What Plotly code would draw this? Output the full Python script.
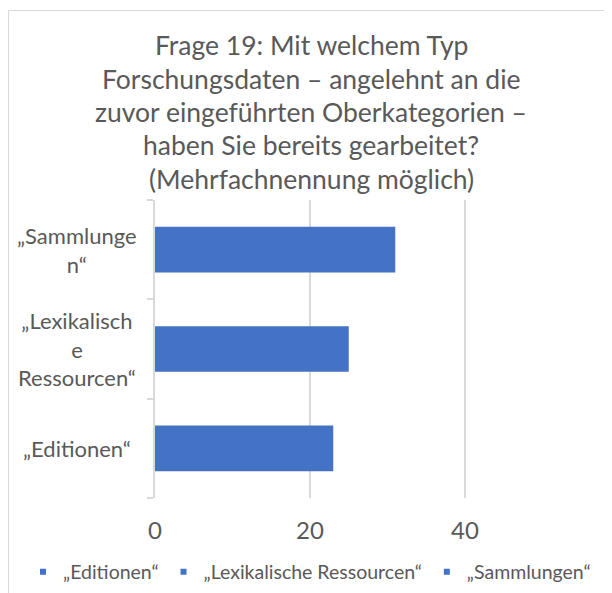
import plotly.graph_objects as go

categories = ["„Editionen“", "„Lexikalische Ressourcen“", "„Sammlungen“"]
category_labels = ["„Editionen“", "„Lexikalisch<br>e<br>Ressourcen“", "„Sammlunge<br>n“"]
values = [23, 25, 31]
title_lines = ["Frage 19: Mit welchem Typ",
               "Forschungsdaten – angelehnt an die",
               "zuvor eingeführten Oberkategorien –",
               "haben Sie bereits gearbeitet?",
               "(Mehrfachnennung möglich)"]
x_ticks = [0, 20, 40, 60]

BAR = "#4472C4"
TXT = "#595959"
GRID = "#D9D9D9"
FONT = "Lato"

# the page body adds an 8px offset; lay out in page pixels minus that offset
OFF = 8
W, H = 612 - OFF, 593 - OFF
ML, MR, MT, MB = 155 - OFF, 0, 200 - OFF, 95
plot_w = W - ML - MR
plot_h = H - MT - MB
px_per_unit = 7.75


def px_x(px):  # page pixel -> paper x
    return (px - OFF - ML) / plot_w


def px_y(py):  # page pixel -> paper y
    return (MT + plot_h - (py - OFF)) / plot_h


fig = go.Figure()
for cat, val in zip(categories, values):
    fig.add_trace(go.Bar(y=[cat], x=[val], orientation="h", width=0.46,
                         marker=dict(color=BAR, line=dict(width=0)),
                         showlegend=False, hoverinfo="x+y"))
for cat in categories:
    fig.add_trace(go.Scatter(x=[None], y=[None], mode="markers", name=cat,
                             marker=dict(symbol="square", size=6, color=BAR)))

annotations = []
for cat, lab in zip(categories, category_labels):
    annotations.append(dict(x=px_x(76.5), xref="paper", y=cat, yref="y",
                            text=lab, showarrow=False, align="center",
                            xanchor="center", yanchor="middle",
                            font=dict(family=FONT, size=22, color=TXT)))
title_mid = [45, 78.5, 112, 145.5, 179]
for line, cy in zip(title_lines, title_mid):
    annotations.append(dict(x=px_x(311), xref="paper", y=px_y(cy), yref="paper",
                            text=line, showarrow=False, xanchor="center",
                            yanchor="middle",
                            font=dict(family=FONT, size=26.5, color=TXT)))

fig.update_layout(
    width=W, height=H,
    margin=dict(l=ML, r=MR, t=MT, b=MB, autoexpand=False),
    paper_bgcolor="white", plot_bgcolor="white",
    barmode="overlay",
    font=dict(family=FONT, color=TXT),
    xaxis=dict(range=[0, plot_w / px_per_unit], tickvals=x_ticks,
               showgrid=True, gridcolor=GRID, gridwidth=1.5,
               zeroline=False, showline=False,
               ticks="outside", ticklen=11, tickcolor="rgba(0,0,0,0)",
               tickfont=dict(family=FONT, size=24, color=TXT)),
    yaxis=dict(categoryorder="array", categoryarray=categories,
               showticklabels=False, showline=True, linecolor=GRID, linewidth=1.5,
               ticks="outside", tickson="boundaries", ticklen=6, tickcolor=GRID,
               tickwidth=1.5, showgrid=False, zeroline=False),
    legend=dict(orientation="h", x=px_x(63 - 40), xref="paper", xanchor="left",
                y=px_y(572), yref="paper", yanchor="middle",
                font=dict(family=FONT, size=19.5, color=TXT),
                itemwidth=30, traceorder="normal", bgcolor="rgba(0,0,0,0)"),
    annotations=annotations,
    shapes=[dict(type="rect", xref="paper", yref="paper",
                 x0=px_x(OFF + 0.5), x1=px_x(612 + 20),
                 y0=px_y(593 + 20), y1=px_y(OFF + 2.5),
                 line=dict(color=GRID, width=1), layer="below")],
)

fig.write_html("out.html")
